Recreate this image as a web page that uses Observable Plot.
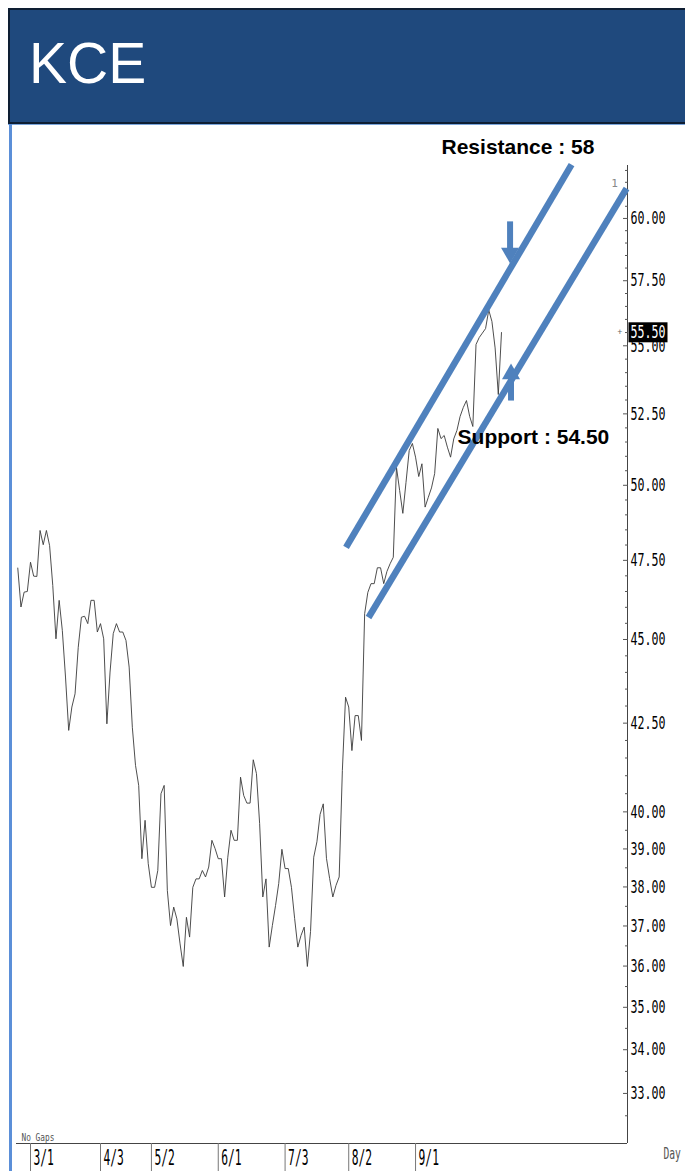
<!DOCTYPE html>
<html>
<head>
<meta charset="utf-8">
<script src="https://cdn.jsdelivr.net/npm/d3@7"></script>
<script src="https://cdn.jsdelivr.net/npm/@observablehq/plot@0.6"></script>
<style>
html,body{margin:0;padding:0;background:#fff;}
body{width:685px;height:1171px;position:relative;overflow:hidden;font-family:"Liberation Sans",Arial,sans-serif;}
#header{position:absolute;left:8px;top:8px;width:677px;height:116px;box-sizing:border-box;background:#1f497d;border-top:2px solid #0e1e33;border-left:2px solid #0e1e33;border-bottom:2px solid #0e1e33;}
#title{position:absolute;left:19px;top:25px;color:#fff;font-size:57px;line-height:1;font-family:"Liberation Sans",Arial,sans-serif;}
#underline{position:absolute;left:8px;top:124px;width:677px;height:1px;background:#7aa5dc;}
#blueline{position:absolute;left:9px;top:124px;width:3px;height:1047px;background:#5b8fd8;}
#chart{position:absolute;left:0;top:125px;}
</style>
</head>
<body>
<div id="header"><div id="title">KCE</div></div>
<div id="underline"></div>
<div id="blueline"></div>
<div id="chart"></div>
<script>
// ---- data (trading-day index, "No Gaps") ----
const startIndex = -4;
const closes = [
  47.25,46.01,46.48,46.50,
  47.44,46.99,46.98,48.48,48.01,48.48,47.98,46.69,45.02,46.22,
  45.28,43.86,42.29,42.97,43.36,44.76,45.69,45.72,45.49,46.22,
  46.22,45.23,45.49,45.02,42.48,44.01,45.18,45.49,45.23,45.23,
  44.97,44.16,42.38,41.29,40.73,38.74,39.77,38.61,37.99,37.99,
  38.43,40.50,40.73,37.91,37.01,37.48,37.18,36.55,35.99,37.22,
  36.72,37.99,38.21,38.21,38.43,38.26,38.52,39.23,39.01,38.74,
  38.74,37.74,38.78,39.50,39.23,39.23,40.96,40.45,40.24,40.24,
  41.45,41.06,39.68,37.74,38.21,36.47,37.01,37.52,38.09,38.99,
  38.48,38.48,37.99,37.19,36.47,36.76,36.97,35.99,36.86,38.78,
  39.19,39.93,40.22,38.75,38.22,37.74,38.04,38.26,41.15,43.26,
  42.97,41.71,42.72,42.72,42.00,45.80,46.47,46.75,46.75,47.26,
  47.26,46.75,47.14,47.39,47.60,50.62,49.82,49.05,50.10,51.20,
  51.45,50.97,50.30,50.74,49.26,49.59,49.91,50.40,51.98,51.62,
  51.73,51.32,50.97,51.61,51.91,52.41,52.73,52.98,52.41,52.05,
  55.05,55.31,55.48,55.65,56.36,55.92,54.92,53.20,55.50
];
const lastValue = 55.50;

const tickIdx = [0, 22, 38, 59, 80, 100, 121];
const tickLabels = ["3/1", "4/3", "5/2", "6/1", "7/3", "8/2", "9/1"];
const yLabelTicks = [33, 34, 35, 36, 37, 38, 39, 40, 42.5, 45, 47.5, 50, 52.5, 55, 57.5, 60];
const yMinorTicks = [32.5, 33.5, 34.5, 35.5, 36.5, 37.5, 38.5, 39.5,
  40.5, 41, 41.5, 42, 43, 43.5, 44, 44.5, 45.5, 46, 46.5, 47, 48, 48.5, 49, 49.5,
  50.5, 51, 51.5, 52, 53, 53.5, 54, 54.5, 55.5, 56, 56.5, 57, 58, 58.5, 59, 59.5,
  60.5, 61, 61.5, 62];

const xDomain = [-4.4, 187.6];
const yDomain = [31.89, 62.21];

// channel lines & annotations (index, price)
const channelLines = [
  {name: "resistance", x1: 99.15, y1: 47.92, x2: 170.02, y2: 62.25},
  {name: "support", x1: 106.22, y1: 45.68, x2: 187.30, y2: 61.24}
];
const arrowShafts = [
  {x: 150.7, y1: 59.88, y2: 58.60},
  {x: 151.0, y1: 52.98, y2: 53.95}
];
const arrowHeads = [
  {x: 150.7, y: 58.60, rotate: 180},
  {x: 151.0, y: 53.95, rotate: 0}
];
const notes = [
  {x: 129.16, y: 63.01, text: "Resistance : 58"},
  {x: 134.2, y: 51.67, text: "Support : 54.50"}
];
const lineTag = [{x: 183.5, y: 61.45, text: "1"}];

const priceData = closes.map((v, k) => ({i: startIndex + k, v}));
const tickData = tickIdx.map((d, k) => ({idx: d, label: tickLabels[k]}));

const blue = "#4f81bd";
const mono = "DejaVu Sans Mono";

const chart = Plot.plot({
  width: 685,
  height: 1046,
  marginLeft: 16,
  marginRight: 58,
  marginTop: 40,
  marginBottom: 28,
  x: {type: "linear", domain: xDomain},
  y: {type: "log", domain: yDomain},
  style: {background: "transparent", overflow: "visible"},
  marks: [
    // frame lines
    Plot.ruleY([yDomain[0]], {stroke: "#444", strokeWidth: 1}),
    Plot.ruleX([xDomain[1]], {stroke: "#444", strokeWidth: 1}),
    // y ticks (inward)
    Plot.axisY(yMinorTicks, {anchor: "right", tickSize: 3, dx: -3, tickFormat: () => "", label: null, stroke: "#555"}),
    Plot.axisY(yLabelTicks, {anchor: "right", tickSize: 5, dx: -5, tickFormat: () => "", label: null, stroke: "#555"}),
    // x separators
    Plot.axisX(tickIdx, {anchor: "bottom", tickSize: 28, tickFormat: () => "", label: null, stroke: "#777"}),
    // price line
    Plot.line(priceData, {x: "i", y: "v", stroke: "#3a3a3a", strokeWidth: 0.9}),
    // channel
    Plot.link(channelLines, {x1: "x1", y1: "y1", x2: "x2", y2: "y2", stroke: blue, strokeWidth: 6.5}),
    Plot.link(arrowShafts, {x1: "x", x2: "x", y1: "y1", y2: "y2", stroke: blue, strokeWidth: 6}),
    Plot.dot(arrowHeads, {x: "x", y: "y", symbol: "triangle", r: 6.7, fill: blue, stroke: "none", rotate: "rotate"}),
    // annotations
    Plot.text(notes, {x: "x", y: "y", text: "text", textAnchor: "start", fontSize: 21, fontWeight: "bold", fill: "#000", fontFamily: "Liberation Sans, Arial, sans-serif"}),
    Plot.text(lineTag, {x: "x", y: "y", text: "text", fontSize: 11, fill: "#888", fontFamily: mono}),
    // y labels
    Plot.text(yLabelTicks, {y: d => d, text: d => d.toFixed(2), frameAnchor: "right", textAnchor: "start", dx: 3, fontFamily: mono, fontSize: 18, fill: "#000", ariaDescription: "ylab"}),
    Plot.text([lastValue], {y: d => d, text: () => "+", frameAnchor: "right", dx: -5, fontSize: 9, fill: "#666"}),
    Plot.text([lastValue], {y: d => d, text: d => d.toFixed(2), frameAnchor: "right", textAnchor: "start", dx: 3, fontFamily: mono, fontSize: 18, fill: "#fff", ariaDescription: "lastlab"}),
    // x labels
    Plot.text(tickData, {x: "idx", text: "label", frameAnchor: "bottom", textAnchor: "start", lineAnchor: "top", dx: 3, dy: 7, fontFamily: mono, fontSize: 21, fill: "#000", ariaDescription: "xlab"}),
    Plot.text(["No Gaps"], {text: d => d, frameAnchor: "bottom-left", textAnchor: "start", lineAnchor: "bottom", dx: 5, dy: -3, fontSize: 11, fill: "#555", fontFamily: mono, ariaDescription: "nogaps"}),
    Plot.text(["Day"], {text: d => d, frameAnchor: "bottom-right", textAnchor: "start", lineAnchor: "top", dx: 36, dy: 4, fontSize: 16, fill: "#555", fontFamily: mono, ariaDescription: "day"})
  ]
});

document.getElementById("chart").appendChild(chart);

function marksFor(label) {
  return chart.querySelectorAll(`g[aria-description="${label}"] text`);
}
function squeeze(label, perChar) {
  marksFor(label).forEach(t => {
    t.setAttribute("textLength", t.textContent.length * perChar);
    t.setAttribute("lengthAdjust", "spacingAndGlyphs");
  });
}
squeeze("ylab", 7);
squeeze("lastlab", 7);
squeeze("xlab", 6.8);
squeeze("nogaps", 4.7);
squeeze("day", 5.8);

// black box behind the last-price label
marksFor("lastlab").forEach(t => {
  const bb = t.getBBox();
  const r = document.createElementNS("http://www.w3.org/2000/svg", "rect");
  r.setAttribute("x", bb.x - 2);
  r.setAttribute("y", bb.y + 1);
  r.setAttribute("width", bb.width + 4);
  r.setAttribute("height", bb.height - 1);
  r.setAttribute("fill", "#000");
  const tr = t.getAttribute("transform");
  if (tr) r.setAttribute("transform", tr);
  t.parentNode.insertBefore(r, t);
});
</script>
</body>
</html>
